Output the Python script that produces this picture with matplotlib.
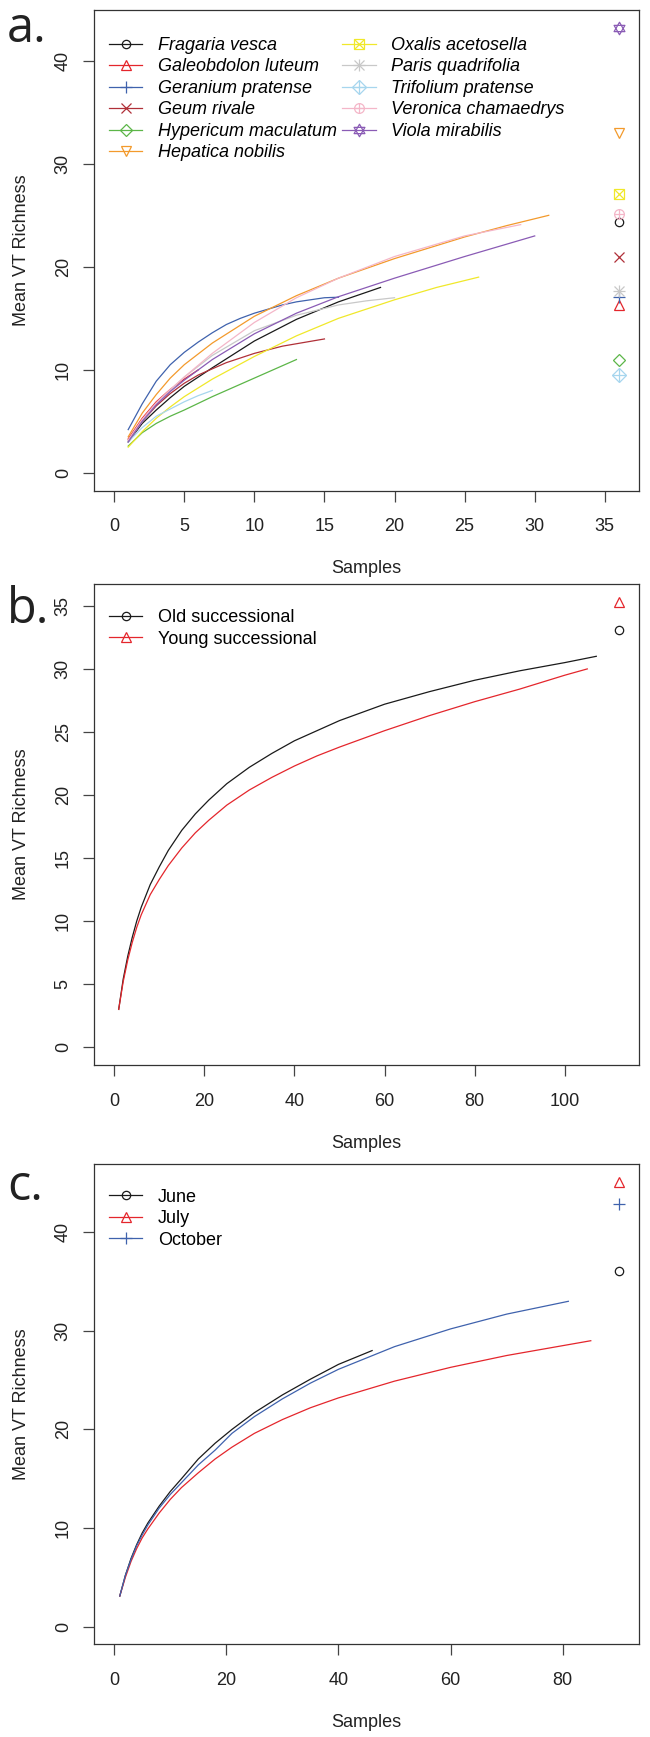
import numpy as np
import matplotlib.pyplot as plt
from matplotlib.path import Path
from matplotlib.lines import Line2D

plt.rcParams['font.family'] = ['Liberation Sans', 'DejaVu Sans']

# ---- panel a: rarefaction curves per host plant ----
species = ["Fragaria vesca", "Galeobdolon luteum", "Geranium pratense", "Geum rivale",
           "Hypericum maculatum", "Hepatica nobilis", "Oxalis acetosella", "Paris quadrifolia",
           "Trifolium pratense", "Veronica chamaedrys", "Viola mirabilis"]

fragaria_x = [1, 2, 3, 4, 5, 7, 10, 13, 16, 19]
fragaria_y = [3.0, 4.8, 6.1, 7.3, 8.4, 10.2, 12.8, 14.9, 16.6, 18.0]
galeobdolon_x = [1, 2, 3, 4, 5, 6]
galeobdolon_y = [3.3, 5.3, 6.9, 8.1, 9.1, 10.0]
geranium_x = [1, 2, 3, 4, 5, 6, 7, 8, 9, 10, 11, 12, 13, 14, 15, 16]
geranium_y = [4.2, 6.7, 8.9, 10.5, 11.7, 12.7, 13.6, 14.4, 15.0, 15.5, 15.9, 16.3, 16.6, 16.8, 17.0, 17.05]
geum_x = [1, 2, 3, 4, 5, 6, 8, 10, 12, 15]
geum_y = [3.2, 5.0, 6.5, 7.7, 8.7, 9.5, 10.7, 11.6, 12.3, 13.0]
hypericum_x = [1, 2, 3, 4, 5, 7, 9, 11, 13]
hypericum_y = [2.6, 3.9, 4.8, 5.5, 6.1, 7.4, 8.6, 9.8, 11.0]
hepatica_x = [1, 2, 3, 4, 5, 7, 10, 13, 16, 20, 25, 28, 31]
hepatica_y = [3.5, 5.8, 7.6, 9.2, 10.5, 12.6, 15.2, 17.2, 18.9, 20.8, 22.9, 24.0, 25.0]
oxalis_x = [1, 2, 3, 4, 5, 7, 10, 13, 16, 20, 23, 26]
oxalis_y = [2.5, 4.0, 5.3, 6.4, 7.4, 9.1, 11.3, 13.3, 15.0, 16.8, 18.0, 19.0]
paris_x = [1, 2, 3, 4, 5, 7, 10, 13, 16, 18, 20]
paris_y = [3.0, 5.0, 6.7, 8.0, 9.3, 11.4, 13.8, 15.3, 16.3, 16.7, 17.0]
trifolium_x = [1, 2, 3, 4, 5, 6, 7]
trifolium_y = [3.0, 4.4, 5.5, 6.2, 6.9, 7.5, 8.0]
veronica_x = [1, 2, 3, 4, 5, 7, 10, 13, 16, 20, 25, 29]
veronica_y = [3.2, 5.2, 6.8, 8.1, 9.3, 11.6, 14.6, 17.0, 18.9, 21.0, 23.0, 24.1]
viola_x = [1, 2, 3, 4, 5, 7, 10, 13, 16, 20, 25, 30]
viola_y = [3.0, 5.0, 6.6, 7.9, 9.0, 11.0, 13.5, 15.5, 17.1, 18.9, 21.0, 23.0]

# total richness (points at the right)
total_x_a = 36
total_a = [24.4, 16.3, 17.1, 21.0, 11.0, 33.0, 27.1, 17.7, 9.5, 25.1, 43.2]

# ---- panel b: successional stage ----
stage_labels = ["Old successional", "Young successional"]
old_x = [1, 2, 3, 4, 5, 6, 8, 10, 12, 15, 18, 21, 25, 30, 35, 40, 45, 50, 60, 70, 80, 90, 100, 107]
old_y = [3.0, 5.4, 7.2, 8.7, 10.0, 11.1, 12.9, 14.3, 15.6, 17.2, 18.5, 19.6, 20.9, 22.2, 23.3,
         24.3, 25.1, 25.9, 27.2, 28.2, 29.1, 29.85, 30.5, 31.0]
young_x = [1, 2, 3, 4, 5, 6, 8, 10, 12, 15, 18, 21, 25, 30, 35, 40, 45, 50, 60, 70, 80, 90, 100, 105]
young_y = [3.0, 5.2, 6.9, 8.3, 9.5, 10.5, 12.1, 13.3, 14.4, 15.8, 17.0, 18.0, 19.2, 20.4, 21.4,
           22.3, 23.1, 23.8, 25.1, 26.3, 27.4, 28.4, 29.5, 30.0]
total_x_b = 112
total_b = [33.1, 35.3]

# ---- panel c: sampling month ----
month_labels = ["June", "July", "October"]
june_x = [1, 2, 3, 4, 5, 6, 8, 10, 12, 15, 18, 21, 25, 30, 35, 40, 46]
june_y = [3.1, 5.2, 6.9, 8.3, 9.5, 10.5, 12.2, 13.7, 15.0, 17.0, 18.6, 20.0, 21.7, 23.5, 25.1, 26.6, 28.0]
july_x = [1, 2, 3, 4, 5, 6, 8, 10, 12, 15, 18, 21, 25, 30, 35, 40, 50, 60, 70, 80, 85]
july_y = [3.1, 5.0, 6.6, 7.9, 9.0, 9.9, 11.5, 12.9, 14.1, 15.6, 17.0, 18.2, 19.6, 21.0, 22.2,
          23.2, 24.9, 26.3, 27.5, 28.5, 29.0]
october_x = [1, 2, 3, 4, 5, 6, 8, 10, 12, 15, 18, 21, 25, 30, 35, 40, 50, 60, 70, 81]
october_y = [3.1, 5.2, 6.8, 8.2, 9.3, 10.3, 12.0, 13.4, 14.6, 16.4, 17.9, 19.6, 21.3, 23.1, 24.7,
             26.1, 28.4, 30.2, 31.7, 33.0]
total_x_c = 90
total_c = [36.1, 45.1, 42.9]

# ---- styles ----
colors_a = ['#1a1a1a', '#e4262c', '#3f62ad', '#b03038', '#5cb648', '#f39a2c',
            '#f0e82a', '#c8c8c8', '#a6d6ee', '#f4b6c8', '#8a5bb5']

tri_up = Path([(0, 1), (-0.866, -0.5), (0.866, -0.5), (0, 1)],
              [Path.MOVETO, Path.LINETO, Path.LINETO, Path.CLOSEPOLY])
tri_dn = Path([(0, -1), (-0.866, 0.5), (0.866, 0.5), (0, -1)],
              [Path.MOVETO, Path.LINETO, Path.LINETO, Path.CLOSEPOLY])

# R pch 1..11 rebuilt from overlaid matplotlib markers
pch = [
    [('o', 6)],
    [('^', 7)],
    [('+', 9)],
    [('x', 7)],
    [('D', 6.5)],
    [('v', 7)],
    [('s', 6.5), ('x', 6.5)],
    [('+', 8.5), ('x', 7)],
    [('D', 7), ('+', 9.5)],
    [('o', 7), ('+', 7)],
    [(tri_up, 9), (tri_dn, 9)],
]


def draw_point(ax, x, y, marks, color):
    for m, s in marks:
        ax.plot([x], [y], ls='none', marker=m, ms=s, mfc='none', mec=color, mew=0.9)


def handle(marks, color):
    h = [Line2D([], [], color=color, lw=0.9)]
    for m, s in marks:
        h.append(Line2D([], [], ls='none', marker=m, ms=s, mfc='none', mec=color, mew=0.9))
    return tuple(h)


def style_axes(ax, xlim, ylim, xticks, yticks):
    ax.set_xlim(*xlim)
    ax.set_ylim(*ylim)
    ax.set_xticks(xticks)
    ax.set_yticks(yticks)
    for sp in ax.spines.values():
        sp.set_color('#333333')
        sp.set_linewidth(0.9)
    ax.tick_params(direction='out', length=8, width=0.9, color='#444444',
                   labelsize=13, labelcolor='#222222')
    ax.tick_params(axis='x', pad=12)
    ax.tick_params(axis='y', pad=8)
    for lab in ax.get_yticklabels():
        lab.set_rotation(90)
        lab.set_va('center')
    ax.set_xlabel('Samples', fontsize=13, color='#222222')
    ax.set_ylabel('Mean VT Richness', fontsize=13, color='#222222')
    ax.xaxis.set_label_coords(0.5, -0.145)
    ax.yaxis.set_label_coords(-0.118, 0.5)


fig = plt.figure(figsize=(6.5, 17.37), dpi=100)
H = 1737.0
W = 650.0
leg_kw = dict(loc='upper left', frameon=False, handlelength=1.85, handletextpad=0.85,
              labelspacing=0.25, borderpad=0, borderaxespad=0)

# panel a
ax1 = fig.add_axes([94 / W, 1 - 490.7 / H, 545 / W, 480.7 / H])
curves_a = [(fragaria_x, fragaria_y), (galeobdolon_x, galeobdolon_y), (geranium_x, geranium_y),
            (geum_x, geum_y), (hypericum_x, hypericum_y), (hepatica_x, hepatica_y),
            (oxalis_x, oxalis_y), (paris_x, paris_y), (trifolium_x, trifolium_y),
            (veronica_x, veronica_y), (viola_x, viola_y)]
handles_a = []
for (cx, cy), col, marks, tot in zip(curves_a, colors_a, pch, total_a):
    ax1.plot(cx, cy, color=col, lw=0.9)
    draw_point(ax1, total_x_a, tot, marks, col)
    handles_a.append(handle(marks, col))
style_axes(ax1, (-1.44, 37.44), (-1.73, 44.93), range(0, 36, 5), range(0, 41, 10))
ax1.legend(handles_a, species, bbox_to_anchor=(0.0275, 0.944), ncol=2,
           prop={'style': 'italic', 'size': 13}, columnspacing=0.3, **leg_kw)

# panel b
colors_b = ['#1a1a1a', '#e4262c']
ax2 = fig.add_axes([94 / W, 1 - 1065 / H, 545 / W, 480.7 / H])
handles_b = []
for (cx, cy), col, marks, tot in zip([(old_x, old_y), (young_x, young_y)], colors_b, pch[:2], total_b):
    ax2.plot(cx, cy, color=col, lw=0.9)
    draw_point(ax2, total_x_b, tot, marks, col)
    handles_b.append(handle(marks, col))
style_axes(ax2, (-4.48, 116.48), (-1.41, 36.71), range(0, 101, 20), range(0, 36, 5))
ax2.legend(handles_b, stage_labels, bbox_to_anchor=(0.0275, 0.948), fontsize=13, **leg_kw)

# panel c
colors_c = ['#1a1a1a', '#e4262c', '#3f62ad']
ax3 = fig.add_axes([94 / W, 1 - 1644.3 / H, 545 / W, 480 / H])
handles_c = []
for (cx, cy), col, marks, tot in zip([(june_x, june_y), (july_x, july_y), (october_x, october_y)],
                                     colors_c, pch[:3], total_c):
    ax3.plot(cx, cy, color=col, lw=0.9)
    draw_point(ax3, total_x_c, tot, marks, col)
    handles_c.append(handle(marks, col))
style_axes(ax3, (-3.6, 93.6), (-1.8, 46.9), range(0, 81, 20), range(0, 41, 10))
ax3.legend(handles_c, month_labels, bbox_to_anchor=(0.0275, 0.949), fontsize=13, **leg_kw)

# panel letters
for lab, yb in [('a.', 41.7), ('b.', 623), ('c.', 1200)]:
    fig.text(7 / W, 1 - yb / H, lab, fontsize=35, family='Open Sans',
             color='#222222', ha='left', va='baseline')

fig.savefig('out.png', dpi=100)
